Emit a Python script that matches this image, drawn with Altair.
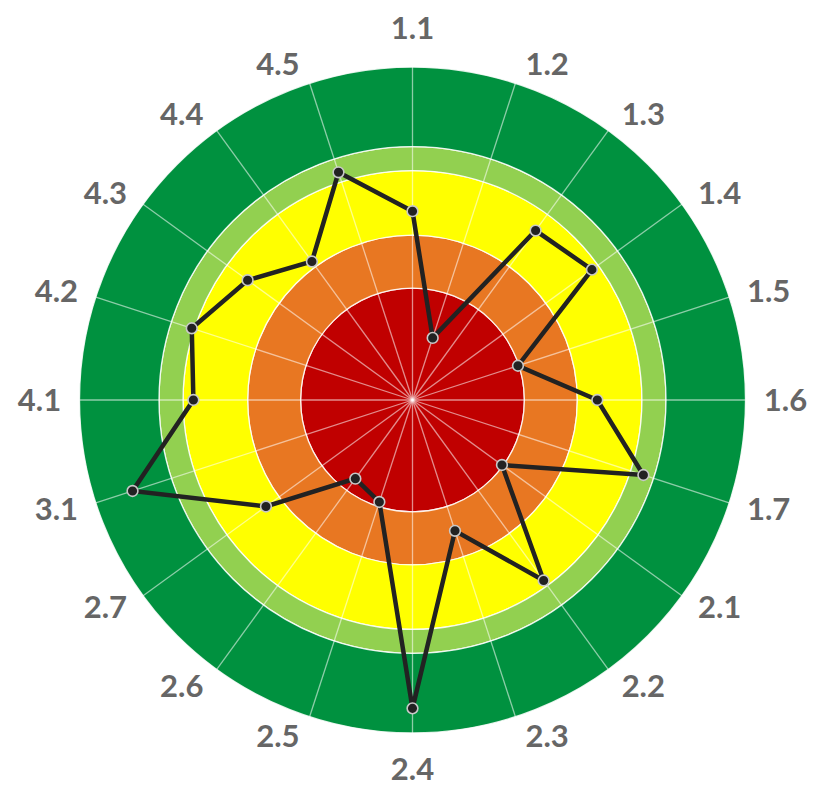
import math
import altair as alt
import pandas as pd

# ---- data ----
categories = ["1.1", "1.2", "1.3", "1.4", "1.5", "1.6", "1.7",
              "2.1", "2.2", "2.3", "2.4", "2.5", "2.6", "2.7",
              "3.1", "4.1", "4.2", "4.3", "4.4", "4.5"]
scores = [56.7, 19.6, 62.9, 66.6, 33.3, 55.5, 72.9,
          33.2, 67.0, 41.3, 92.6, 32.2, 29.2, 54.4,
          88.4, 65.8, 69.7, 61.2, 51.4, 71.9]
band_names = ["red", "orange", "yellow", "lightgreen", "green"]
band_inner = [0, 33.6, 49.5, 68.9, 76.1]
band_outer = [33.6, 49.5, 68.9, 76.1, 100]
band_colors = ["#C00000", "#E87722", "#FFFF00", "#92D050", "#00913F"]

# ---- layout ----
PX = 3.33            # pixels per radial unit (100 units = outer ring)
W, H = 800, 779
CX, CY = 404.5, 392  # centre inside the view, pixels
xs = alt.Scale(domain=[-CX / PX, (W - CX) / PX], nice=False, zero=False)
ys = alt.Scale(domain=[-(H - CY) / PX, CY / PX], nice=False, zero=False)

n = len(categories)
ang = [2 * math.pi * i / n for i in range(n)]

bands = pd.DataFrame({"name": band_names, "inner": band_inner,
                      "outer": band_outer, "cx": 0.0, "cy": 0.0})

spokes = pd.DataFrame({
    "x0": [0.0] * n, "y0": [0.0] * n,
    "x1": [100 * math.sin(a) for a in ang],
    "y1": [100 * math.cos(a) for a in ang],
})

line_rows = []
for i in range(n + 1):
    k = i % n
    line_rows.append({"order": i, "cat": categories[k],
                      "x": scores[k] * math.sin(ang[k]),
                      "y": scores[k] * math.cos(ang[k])})
line_df = pd.DataFrame(line_rows)
pts_df = line_df.iloc[:n]

R0 = 345.0
lab_rows = []
for i, a in enumerate(ang):
    s, c = math.sin(a), math.cos(a)
    if abs(s) < 1e-6:
        ox, oy = 0.0, (27.0 if c > 0 else -24.0)
    else:
        ox, oy = 28.0 * (1 if s > 0 else -1), 8.0 * c
    px_ = R0 * s + ox
    py_ = R0 * c + oy - 2.0
    lab_rows.append({"cat": categories[i], "x": px_ / PX, "y": py_ / PX})
lab_df = pd.DataFrame(lab_rows)

band_layer = alt.Chart(bands).mark_arc(
    theta=0, theta2=2 * math.pi, stroke="white", strokeWidth=1.3, strokeOpacity=0.85
).encode(
    x=alt.X("cx:Q", scale=xs, axis=None),
    y=alt.Y("cy:Q", scale=ys, axis=None),
    radius=alt.Radius("outer:Q", scale=alt.Scale(type="linear", domain=[0, 100], range=[0, 100 * PX])),
    radius2=alt.Radius2("inner:Q"),
    color=alt.Color("name:N", scale=alt.Scale(domain=band_names, range=band_colors), legend=None),
)

spoke_layer = alt.Chart(spokes).mark_rule(
    color="white", strokeWidth=1.3, strokeOpacity=0.55
).encode(
    x=alt.X("x0:Q", scale=xs, axis=None),
    y=alt.Y("y0:Q", scale=ys, axis=None),
    x2="x1:Q", y2="y1:Q",
)

line_layer = alt.Chart(line_df).mark_line(
    color="#222222", strokeWidth=4.5
).encode(
    x=alt.X("x:Q", scale=xs, axis=None),
    y=alt.Y("y:Q", scale=ys, axis=None),
    order="order:Q",
)

pt_layer = alt.Chart(pts_df).mark_point(
    shape="circle", filled=True, size=115, fill="#222222",
    stroke="#c8c8c8", strokeWidth=1.6, opacity=1
).encode(
    x=alt.X("x:Q", scale=xs, axis=None),
    y=alt.Y("y:Q", scale=ys, axis=None),
)

label_layer = alt.Chart(lab_df).mark_text(
    font="Lato", fontWeight="bold", fontSize=31, color="#666666",
    align="center", baseline="middle"
).encode(
    x=alt.X("x:Q", scale=xs, axis=None),
    y=alt.Y("y:Q", scale=ys, axis=None),
    text="cat:N",
)

chart = alt.layer(band_layer, spoke_layer, line_layer, pt_layer, label_layer).properties(
    width=W, height=H,
    autosize=alt.AutoSizeParams(type="none"),
    padding={"left": 0, "top": 0, "right": 0, "bottom": 0},
).configure_view(strokeWidth=0)

chart.save("out.html", embed_options={"renderer": "svg", "actions": False})
